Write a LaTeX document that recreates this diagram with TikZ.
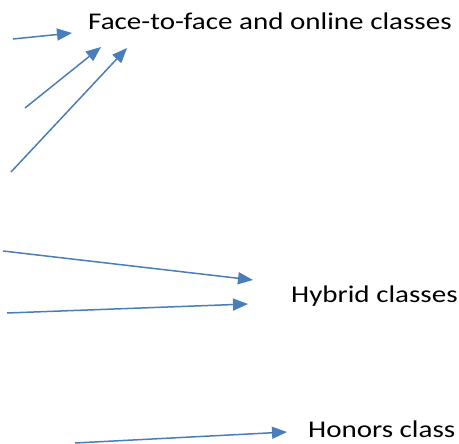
\documentclass[tikz,border=0pt]{standalone}
\usepackage{fontspec}
\setmainfont{Carlito}[FakeStretch=1.21]
\usepackage{xcolor}
\usepackage{tikz}
\usetikzlibrary{arrows.meta,positioning}
\definecolor{arrowblue}{HTML}{4A7EBB}

\begin{document}
\begin{tikzpicture}[
    x=1pt, y=-1pt,
    label/.style={anchor=base west, inner sep=0pt, font=\fontsize{24}{28}\selectfont},
    arr/.style={-{Triangle[length=15pt, width=12pt]}, line width=1.5pt, draw=arrowblue, fill=arrowblue},
]
    \useasboundingbox (0,0) rectangle (459,444);

    \node[label] (modes) at (88,30) {Face-to-face and online classes};
    \node[label] (hybrid) at (291,302) {Hybrid classes};
    \node[label] (honors) at (308,438) {Honors class};

    \coordinate (a1) at (13,39);   \coordinate (b1) at (72,33);
    \coordinate (a2) at (25,108);  \coordinate (b2) at (101,47);
    \coordinate (a3) at (11,172);  \coordinate (b3) at (127,48);
    \coordinate (a4) at (3,251);   \coordinate (b4) at (253,280);
    \coordinate (a5) at (7,313);   \coordinate (b5) at (248,304);
    \coordinate (a6) at (75,443);  \coordinate (b6) at (287,432);

    \draw[arr] (a1) -- (b1);
    \draw[arr] (a2) -- (b2);
    \draw[arr] (a3) -- (b3);
    \draw[arr] (a4) -- (b4);
    \draw[arr] (a5) -- (b5);
    \draw[arr] (a6) -- (b6);
\end{tikzpicture}
\end{document}
